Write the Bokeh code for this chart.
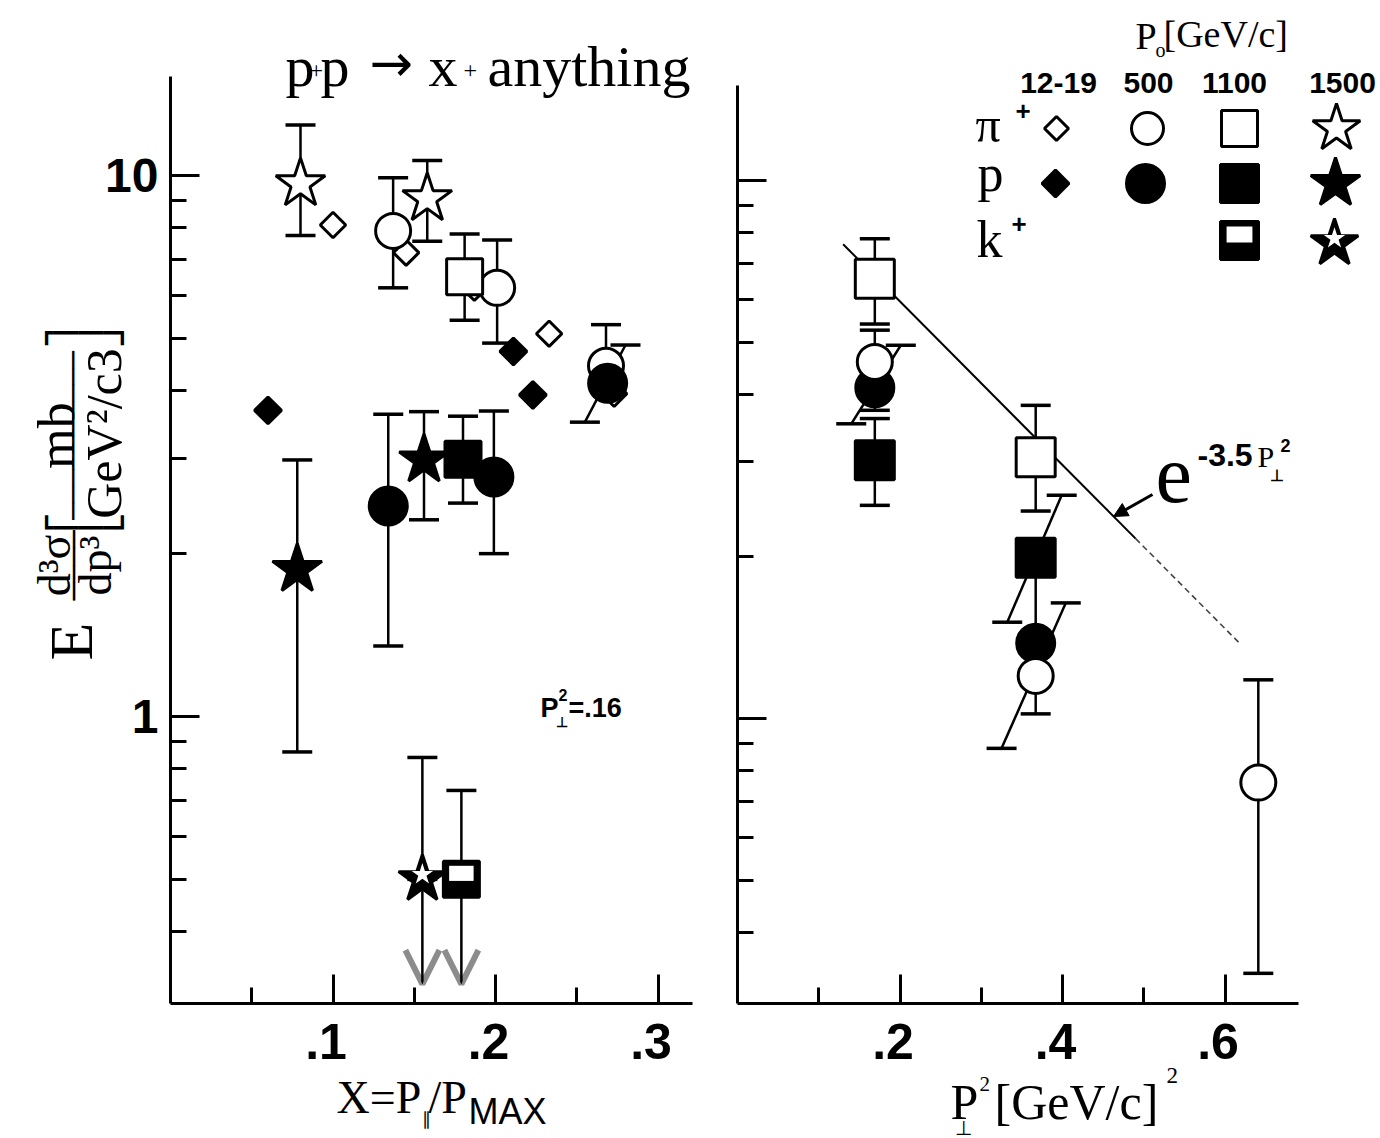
import math
from bokeh.plotting import figure
from bokeh.models import (Range1d, FixedTicker, Label, Arrow, OpenHead, NormalHead,
                          CustomJSTickFormatter)
from bokeh.layouts import row
from bokeh.embed import file_html
from bokeh.resources import INLINE

# ------------------------------------------------------------------ data
# left panel: E d3s/dp3 vs x = P_par/P_max at P_perp^2 = .16
L_pi1219_x = [0.100, 0.145, 0.187, 0.233, 0.273]
L_pi1219_y = [8.1, 7.2, 6.2, 5.1, 3.95]
L_p1219_x = [0.060, 0.211, 0.223]
L_p1219_y = [3.68, 4.73, 3.93]
L_pi500_x = [0.137, 0.201, 0.268]
L_pi500_y = [7.9, 6.2, 4.45]
L_pi500_lo = [6.2, 4.9, 4.45]
L_pi500_hi = [9.9, 7.6, 5.3]
L_p500_x = [0.134, 0.199, 0.269]
L_p500_y = [2.45, 2.77, 4.13]
L_p500_lo = [1.35, 2.0, 3.5]
L_p500_hi = [3.62, 3.67, 4.86]
L_p500_xlo = [0.134, 0.199, 0.255]
L_p500_xhi = [0.134, 0.199, 0.280]
L_pi1100_x = [0.181]
L_pi1100_y = [6.5]
L_pi1100_lo = [5.4]
L_pi1100_hi = [7.8]
L_p1100_x = [0.180]
L_p1100_y = [2.99]
L_p1100_lo = [2.48]
L_p1100_hi = [3.59]
L_pi1500_x = [0.080, 0.158]
L_pi1500_y = [9.65, 9.06]
L_pi1500_lo = [7.75, 7.56]
L_pi1500_hi = [12.4, 10.66]
L_p1500_x = [0.078, 0.156]
L_p1500_y = [1.87, 2.98]
L_p1500_lo = [0.86, 2.31]
L_p1500_hi = [2.98, 3.66]
L_k1100_x = [0.179]
L_k1100_y = [0.50]
L_k1100_hi = [0.73]
L_k1100_lim = [0.32]
L_k1500_x = [0.155]
L_k1500_y = [0.50]
L_k1500_hi = [0.84]
L_k1500_lim = [0.32]

# right panel: E d3s/dp3 vs P_perp^2
R_pi1100_x = [0.169, 0.367]
R_pi1100_y = [6.57, 3.06]
R_pi1100_lo = [5.41, 2.43]
R_pi1100_hi = [7.79, 3.82]
R_pi500_x = [0.169, 0.367, 0.641]
R_pi500_y = [4.6, 1.2, 0.76]
R_pi500_lo = [3.74, 1.02, 0.336]
R_pi500_hi = [5.27, 1.86, 1.18]
R_p500_x = [0.169, 0.367]
R_p500_y = [4.12, 1.38]
R_p500_lo = [3.53, 0.88]
R_p500_hi = [4.94, 1.64]
R_p500_xlo = [0.140, 0.325]
R_p500_xhi = [0.201, 0.404]
R_p1100_x = [0.169, 0.367]
R_p1100_y = [3.02, 1.99]
R_p1100_lo = [2.49, 1.51]
R_p1100_hi = [3.61, 2.60]
R_p1100_xlo = [0.169, 0.332]
R_p1100_xhi = [0.169, 0.399]

FIT_NORM = 12.0
FIT_SLOPE = 3.5
FIT_SOLID = [0.13, 0.49]
FIT_FADED = [0.49, 0.62]

L_XTICKS = [0.1, 0.2, 0.3]
L_XMINOR = [0.05, 0.15, 0.25]
R_XTICKS = [0.2, 0.4, 0.6]
R_XMINOR = [0.1, 0.3, 0.5]
Y_MAJOR = [1, 10]
Y_MINOR = [0.4, 0.5, 0.6, 0.7, 0.8, 0.9, 2, 3, 4, 5, 6, 7, 8, 9]

LEG_COLS = ["12-19", "500", "1100", "1500"]
LEG_ROWS = ["π", "p", "k"]

# ------------------------------------------------------------------ layout
H = 1138
LW, RW = 725, 655
SERIF = "Liberation Serif"
SANS = "Liberation Sans"
MONO = "DejaVu Sans Mono"


def Lx(px): return (px - 170) / 1625.0
def Ly(py): return 10 ** ((716 - py) / 541.0)
def Rx(px): return (px - 737) / 812.5
def Ry(py): return 10 ** ((718 - py) / 538.0)


def make_fig(width, x0, x1, y0, y1):
    p = figure(width=width, height=H, y_axis_type="log",
               x_range=Range1d(x0, x1), y_range=Range1d(y0, y1),
               output_backend="svg", toolbar_location=None,
               min_border_left=0, min_border_right=0,
               min_border_top=0, min_border_bottom=0)
    p.outline_line_color = None
    p.xgrid.visible = False
    p.ygrid.visible = False
    p.background_fill_color = "white"
    p.border_fill_color = "white"
    return p


def style_axes(p, xticks, xminor, xbounds, ybounds, x_at, ylabels):
    xa, ya = p.xaxis[0], p.yaxis[0]
    xa.fixed_location = x_at
    ya.fixed_location = 0
    xa.ticker = FixedTicker(ticks=xticks, minor_ticks=xminor)
    ya.ticker = FixedTicker(ticks=Y_MAJOR, minor_ticks=Y_MINOR)
    xa.formatter = CustomJSTickFormatter(
        code="return tick.toFixed(1).replace(/^0/, '') + '\\u00a0';")
    if ylabels:
        ya.formatter = CustomJSTickFormatter(code="return tick >= 1 ? tick.toFixed(0) : '';")
    else:
        ya.formatter = CustomJSTickFormatter(code="return '';")
    xa.bounds = xbounds
    ya.bounds = ybounds
    for ax in (xa, ya):
        ax.axis_line_width = 3
        ax.axis_line_color = "black"
        ax.major_tick_line_width = 3
        ax.minor_tick_line_width = 3
        ax.major_tick_line_color = "black"
        ax.minor_tick_line_color = "black"
        ax.major_tick_in = 29
        ax.major_tick_out = 0
        ax.minor_tick_in = 16
        ax.minor_tick_out = 0
        ax.major_label_text_font = SANS
        ax.major_label_text_font_style = "bold"
        ax.major_label_text_color = "black"
    xa.major_label_text_font_size = "50px"
    xa.major_label_standoff = 10
    if ylabels:
        ya.major_label_text_font_size = "48px"
        ya.major_label_standoff = 12
    else:
        ya.major_label_text_font_size = "0px"
        ya.major_label_standoff = 0


def err(p, x, lo, hi, xlo=None, xhi=None, cap=30):
    xlo = list(xlo) if xlo else list(x)
    xhi = list(xhi) if xhi else list(x)
    p.segment(x0=xlo, y0=lo, x1=xhi, y1=hi, line_color="black", line_width=2.5)
    p.scatter(x=xlo + xhi, y=list(lo) + list(hi), marker="dash", size=cap,
              line_color="black", line_width=3.5)


def pts(p, x, y, marker, size, filled, angle=0.0):
    p.scatter(x=x, y=y, marker=marker, size=size, angle=angle,
              line_color="black", line_width=3,
              fill_color="black" if filled else "white")


def half_square(p, x, y, dec, size=36):
    pts(p, x, y, "square", size, True)
    p.rect(x=x, y=[v * 10 ** (6 / dec) for v in y], width=size * 0.68, height=size * 0.42,
           width_units="screen", height_units="screen", fill_color="white", line_color=None)


def half_star(p, x, y, dec, size=50):
    pts(p, x, y, "star", size, True)
    p.scatter(x=x, y=[v * 10 ** (5 / dec) for v in y], marker="star", size=size * 0.45,
              fill_color="white", line_color=None)


def lab(p, conv, text, px, py, size, font=SERIF, style="normal", align="left",
        baseline="alphabetic", angle=0.0):
    cx, cy = conv
    if baseline == "alphabetic":
        py = py - 0.34 * size
    p.add_layout(Label(x=cx(px), y=cy(py), text=text, text_font=font,
                       text_font_size=f"{size}px", text_font_style=style,
                       text_align=align, text_baseline=baseline, angle=angle,
                       text_color="black"))


# ------------------------------------------------------------------ left panel
pl = make_fig(LW, Lx(0), Lx(LW), Ly(H), Ly(0))
style_axes(pl, L_XTICKS, L_XMINOR, (0, 0.321), (Ly(1003), Ly(76)), Ly(1003), True)

err(pl, L_pi500_x, L_pi500_lo, L_pi500_hi)
err(pl, L_p500_x, L_p500_lo, L_p500_hi, L_p500_xlo, L_p500_xhi)
err(pl, L_pi1100_x, L_pi1100_lo, L_pi1100_hi)
err(pl, L_p1100_x, L_p1100_lo, L_p1100_hi)
err(pl, L_pi1500_x, L_pi1500_lo, L_pi1500_hi)
err(pl, L_p1500_x, L_p1500_lo, L_p1500_hi)
err(pl, L_k1100_x, L_k1100_y, L_k1100_hi)
err(pl, L_k1500_x, L_k1500_y, L_k1500_hi)
for xs, ys, lims in ((L_k1100_x, L_k1100_y, L_k1100_lim), (L_k1500_x, L_k1500_y, L_k1500_lim)):
    for xv, yv, lv in zip(xs, ys, lims):
        pl.add_layout(Arrow(x_start=xv, y_start=yv, x_end=xv, y_end=lv, line_width=2.5,
                            end=OpenHead(size=34, line_width=6, line_color="#8c8c8c"),
                            level="underlay"))

pts(pl, L_pi1219_x, L_pi1219_y, "square", 18, False, math.pi / 4)
pts(pl, L_p1219_x, L_p1219_y, "square", 19, True, math.pi / 4)
pts(pl, L_pi500_x, L_pi500_y, "circle", 35, False)
pts(pl, L_p500_x, L_p500_y, "circle", 38, True)
pts(pl, L_pi1100_x, L_pi1100_y, "square", 36, False)
pts(pl, L_p1100_x, L_p1100_y, "square", 36, True)
pts(pl, L_pi1500_x, L_pi1500_y, "star", 52, False)
pts(pl, L_p1500_x, L_p1500_y, "star", 52, True)
half_square(pl, L_k1100_x, L_k1100_y, 541.0)
half_star(pl, L_k1500_x, L_k1500_y, 541.0)

LC = (Lx, Ly)
# title
lab(pl, LC, "p", 285, 86, 58)
lab(pl, LC, "+", 309, 78, 24)
lab(pl, LC, "p", 320, 86, 58)
lab(pl, LC, "→", 369, 80, 52, "DejaVu Sans")
lab(pl, LC, "x", 428, 86, 58)
lab(pl, LC, "+", 463, 78, 24)
lab(pl, LC, "anything", 487, 86, 58)
# P_perp^2 = .16
lab(pl, LC, "P", 540, 717, 27, SANS, "bold")
lab(pl, LC, "2", 558, 700, 16, SANS, "bold")
lab(pl, LC, "⊥", 555, 726, 14, SANS, "bold")
lab(pl, LC, "=.16", 568, 717, 27, SANS, "bold")
# y axis title (rotated, built from pieces)
R90 = math.pi / 2
lab(pl, LC, "E", 70, 641, 62, align="center", baseline="middle", angle=R90)
lab(pl, LC, "d³σ", 54, 565, 46, align="center", baseline="middle", angle=R90)
lab(pl, LC, "────", 73, 565, 29, MONO, align="center", baseline="middle", angle=R90)
lab(pl, LC, "dp³", 95, 565, 46, align="center", baseline="middle", angle=R90)
lab(pl, LC, "┗━━━━━┛", 84, 527, 21, MONO, align="center", baseline="middle")
lab(pl, LC, "mb", 56, 435, 52, align="center", baseline="middle", angle=R90)
lab(pl, LC, "──────────", 73, 435, 28, MONO, align="center", baseline="middle", angle=R90)
lab(pl, LC, "GeV²/c3", 103, 433, 50, align="center", baseline="middle", angle=R90)
lab(pl, LC, "┏━━━━━┓", 84, 332, 21, MONO, align="center", baseline="middle")
# x axis title
lab(pl, LC, "X=P", 336, 1113, 46)
lab(pl, LC, "∥", 421, 1125, 18)
lab(pl, LC, "/P", 428, 1113, 46)
lab(pl, LC, "MAX", 468, 1123, 36, SANS)

# ------------------------------------------------------------------ right panel
pr = make_fig(RW, Rx(LW), Rx(LW + RW), Ry(H), Ry(0))
style_axes(pr, R_XTICKS, R_XMINOR, (0, 0.691), (Ry(1003), Ry(85)), Ry(1003), False)

pr.line(x=FIT_SOLID, y=[FIT_NORM * math.exp(-FIT_SLOPE * v) for v in FIT_SOLID],
        line_color="black", line_width=2)
pr.line(x=FIT_FADED, y=[FIT_NORM * math.exp(-FIT_SLOPE * v) for v in FIT_FADED],
        line_color="#444444", line_width=1.6, line_dash="6 4")

err(pr, R_pi1100_x, R_pi1100_lo, R_pi1100_hi)
err(pr, R_pi500_x, R_pi500_lo, R_pi500_hi)
err(pr, R_p500_x, R_p500_lo, R_p500_hi, R_p500_xlo, R_p500_xhi)
err(pr, R_p1100_x, R_p1100_lo, R_p1100_hi, R_p1100_xlo, R_p1100_xhi)

pts(pr, R_pi1100_x, R_pi1100_y, "square", 39, False)
pts(pr, R_p1100_x, R_p1100_y, "square", 39, True)
pts(pr, R_p500_x, R_p500_y, "circle", 38, True)
pts(pr, R_pi500_x, R_pi500_y, "circle", 35, False)

RC = (Rx, Ry)
# fit label
lab(pr, RC, "e", 1155, 502, 82)
lab(pr, RC, "-3.5", 1197, 465, 32, SANS, "bold")
lab(pr, RC, "P", 1257, 466, 30)
lab(pr, RC, "2", 1280, 451, 18, SANS, "bold")
lab(pr, RC, "⊥", 1269, 480, 16, SANS, "bold")
pr.add_layout(Arrow(x_start=Rx(1152), y_start=Ry(494), x_end=Rx(1113), y_end=Ry(516),
                    line_width=3, end=NormalHead(size=14, fill_color="black", line_color="black")))

# legend block
lab(pr, RC, "P", 1135, 48, 38)
lab(pr, RC, "o", 1155, 56, 20)
lab(pr, RC, "[GeV/c]", 1163, 46, 38)
leg_cols_px = [1058, 1148, 1234, 1342]
for t, cx in zip(LEG_COLS, leg_cols_px):
    lab(pr, RC, t, cx, 93, 30, SANS, "bold", align="center")
lab(pr, RC, LEG_ROWS[0], 975, 141, 50)
lab(pr, RC, "+", 1015, 119, 26, SANS, "bold")
lab(pr, RC, LEG_ROWS[1], 977, 191, 52)
lab(pr, RC, LEG_ROWS[2], 976, 257, 52)
lab(pr, RC, "+", 1011, 232, 26, SANS, "bold")

row1, row2, row3 = 128, 183, 240
pts(pr, [Rx(1056)], [Ry(row1)], "square", 17, False, math.pi / 4)
pts(pr, [Rx(1147)], [Ry(row1)], "circle", 32, False)
pts(pr, [Rx(1239)], [Ry(row1)], "square", 36, False)
pts(pr, [Rx(1336)], [Ry(row1)], "star", 50, False)
pts(pr, [Rx(1055)], [Ry(row2)], "square", 19, True, math.pi / 4)
pts(pr, [Rx(1145)], [Ry(row2)], "circle", 38, True)
pts(pr, [Rx(1239)], [Ry(row2)], "square", 38, True)
pts(pr, [Rx(1335)], [Ry(row2)], "star", 52, True)
half_square(pr, [Rx(1239)], [Ry(row3)], 538.0, 38)
half_star(pr, [Rx(1334)], [Ry(row3 + 3)], 538.0, 50)

# x axis title
lab(pr, RC, "P", 950, 1118, 50)
lab(pr, RC, "2", 979, 1091, 21)
lab(pr, RC, "⊥", 954, 1134, 20)
lab(pr, RC, "[GeV/c]", 994, 1118, 50)
lab(pr, RC, "2", 1166, 1083, 23)

layout = row(pl, pr)
open("out.html", "w").write(file_html(layout, INLINE))
